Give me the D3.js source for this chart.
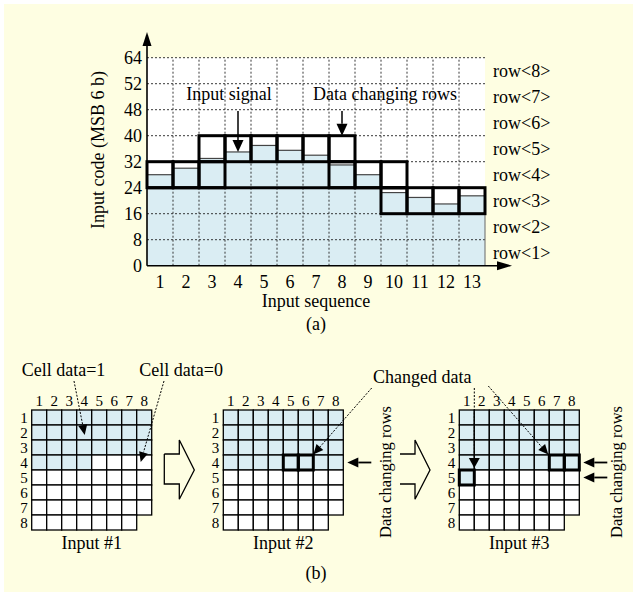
<!DOCTYPE html>
<html>
<head>
<meta charset="utf-8">
<script src="https://cdn.jsdelivr.net/npm/d3@7"></script>
<style>
  body { margin: 0; background: #fff; }
  svg text { font-family: "Liberation Serif", "Times New Roman", serif; fill: #000; }
</style>
</head>
<body>
<svg id="fig" width="633" height="592"></svg>
<script>
// (a) input sequence vs code
const sequence = [1, 2, 3, 4, 5, 6, 7, 8, 9, 10, 11, 12, 13]
const signal = [28, 30, 33, 35, 37, 35.5, 34, 31, 28, 22.5, 21, 19, 21.5]
const yTickValues = [0, 8, 16, 24, 32, 40, 48, 56, 64]
const yTickLabels = ['0', '8', '16', '24', '32', '40', '48', '52', '64']
const rowNames = ['row<1>', 'row<2>', 'row<3>', 'row<4>', 'row<5>', 'row<6>', 'row<7>', 'row<8>']
const changingRows = [[4], [4], [4, 5], [5], [5], [5], [5], [4, 5], [4], [3, 4], [3], [3], [3]]

// (b) 8x8 cell arrays
const gridIndex = [1, 2, 3, 4, 5, 6, 7, 8]
const gridInputs = ['Input #1', 'Input #2', 'Input #3']
const gridFilled = [28, 32, 33]
const gridChanged = [[], [[4, 5], [4, 6]], [[5, 1], [4, 7], [4, 8]]]
const gridArrowRows = [[], [4], [4, 5]]

const BG = '#fefee2'
const BLUE = '#daedf3'

const svg = d3.select('#fig')
svg.append('rect')
  .attr('x', 4).attr('y', 4)
  .attr('width', 629).attr('height', 588)
  .attr('fill', BG)

// straight or dotted line ending in a filled head
const arrow = (g, x1, y1, x2, y2, o = {}) => {
  const len = o.len || 12
  const wid = o.wid || 10
  const a = Math.atan2(y2 - y1, x2 - x1)
  const bx = x2 - len * Math.cos(a)
  const by = y2 - len * Math.sin(a)
  const dx = wid / 2 * Math.sin(a)
  const dy = wid / 2 * Math.cos(a)
  g.append('line')
    .attr('x1', x1).attr('y1', y1)
    .attr('x2', bx).attr('y2', by)
    .attr('stroke', '#000')
    .attr('stroke-width', o.width || 1.5)
    .attr('stroke-dasharray', o.dash || null)
  g.append('path')
    .attr('d', `M${x2},${y2}L${bx + dx},${by - dy}L${bx - dx},${by + dy}Z`)
    .attr('fill', '#000')
}

/* ---------- (a) ---------- */
const panelA = svg.append('g')
const x = d3.scaleBand().domain(sequence).range([147, 485])
const y = d3.scaleLinear().domain([0, 64]).range([265.7, 57.7])
const bw = x.bandwidth()

panelA.append('rect')
  .attr('x', x.range()[0]).attr('y', y(64))
  .attr('width', x.range()[1] - x.range()[0])
  .attr('height', y(0) - y(64))
  .attr('fill', '#fff')

panelA.selectAll('rect.bar')
  .data(signal)
  .join('rect')
  .attr('class', 'bar')
  .attr('x', (d, i) => x(sequence[i]))
  .attr('y', d => y(d))
  .attr('width', bw)
  .attr('height', d => y(0) - y(d))
  .attr('fill', BLUE)

// dotted grid
panelA.selectAll('line.hgrid')
  .data(yTickValues.slice(1))
  .join('line')
  .attr('class', 'hgrid')
  .attr('x1', x.range()[0]).attr('x2', x.range()[1])
  .attr('y1', d => y(d)).attr('y2', d => y(d))
  .attr('stroke', '#222').attr('stroke-width', 0.9)
  .attr('stroke-dasharray', '2,2')

panelA.selectAll('line.vgrid')
  .data(sequence.slice(1))
  .join('line')
  .attr('class', 'vgrid')
  .attr('x1', d => x(d)).attr('x2', d => x(d))
  .attr('y1', y(0)).attr('y2', y(64))
  .attr('stroke', '#222').attr('stroke-width', 0.9)
  .attr('stroke-dasharray', '2,2')

// top of the signal in each column
panelA.selectAll('line.sig')
  .data(signal)
  .join('line')
  .attr('class', 'sig')
  .attr('x1', (d, i) => x(sequence[i]))
  .attr('x2', (d, i) => x(sequence[i]) + bw)
  .attr('y1', d => y(d)).attr('y2', d => y(d))
  .attr('stroke', '#444').attr('stroke-width', 1.2)

panelA.append('line')
  .attr('x1', x.range()[1]).attr('x2', x.range()[1])
  .attr('y1', y(0)).attr('y2', y(signal[signal.length - 1]))
  .attr('stroke', '#666').attr('stroke-width', 1)

// data changing rows as thick boxes
const boxes = []
changingRows.forEach((rows, i) => rows.forEach(r => boxes.push({ col: sequence[i], row: r })))
const row4 = sequence.filter((s, i) => changingRows[i].includes(4))
panelA.append('line')
  .attr('x1', x(d3.min(row4))).attr('x2', x(d3.max(row4)) + bw)
  .attr('y1', y(24)).attr('y2', y(24))
  .attr('stroke', '#000').attr('stroke-width', 3)

panelA.selectAll('rect.box')
  .data(boxes)
  .join('rect')
  .attr('class', 'box')
  .attr('x', d => x(d.col))
  .attr('y', d => y(d.row * 8))
  .attr('width', bw)
  .attr('height', d => y((d.row - 1) * 8) - y(d.row * 8))
  .attr('fill', 'none')
  .attr('stroke', '#000').attr('stroke-width', 3)

// axes
const yAxis = panelA.append('g')
  .attr('transform', `translate(${x.range()[0]},0)`)
  .call(d3.axisLeft(y).tickValues(yTickValues).tickFormat((d, i) => yTickLabels[i]).tickSize(0).tickPadding(5))
  .attr('font-size', 18)
yAxis.select('.domain').remove()

const xAxis = panelA.append('g')
  .attr('transform', `translate(0,${y(0)})`)
  .call(d3.axisBottom(x).tickSize(0).tickPadding(9.5))
  .attr('font-size', 18)
xAxis.select('.domain').remove()

arrow(panelA, x.range()[0], y(0), x.range()[0], 32, { len: 14, wid: 9, width: 1.6 })
arrow(panelA, x.range()[0], y(0), 512, y(0), { len: 15, wid: 9, width: 1.6 })

panelA.selectAll('text.rowname')
  .data(rowNames)
  .join('text')
  .attr('class', 'rowname')
  .attr('x', x.range()[1] + 8)
  .attr('y', (d, i) => y(i * 8 + 4))
  .attr('dy', '0.35em')
  .attr('font-size', 18)
  .text(d => d)

panelA.append('text')
  .attr('transform', 'translate(98,150) rotate(-90)')
  .attr('text-anchor', 'middle')
  .attr('dominant-baseline', 'central')
  .attr('font-size', 18)
  .text('Input code (MSB 6 b)')

panelA.append('text')
  .attr('x', 316).attr('y', 307)
  .attr('text-anchor', 'middle')
  .attr('font-size', 18)
  .text('Input sequence')

panelA.append('text')
  .attr('x', 316).attr('y', 330)
  .attr('text-anchor', 'middle')
  .attr('font-size', 18)
  .text('(a)')

panelA.append('text')
  .attr('x', 229).attr('y', 100)
  .attr('text-anchor', 'middle')
  .attr('font-size', 18)
  .text('Input signal')
arrow(panelA, x(4) + bw / 2, 111, x(4) + bw / 2, y(signal[3]), { len: 12, wid: 11 })

panelA.append('text')
  .attr('x', 385).attr('y', 100)
  .attr('text-anchor', 'middle')
  .attr('font-size', 18)
  .text('Data changing rows')
arrow(panelA, x(8) + bw / 2, 111, x(8) + bw / 2, y(40), { len: 12, wid: 11 })

/* ---------- (b) ---------- */
const panelB = svg.append('g')
const gridLeft = [31.7, 223.3, 459.3]
const gridTop = 410
const cell = d3.scaleBand().domain(gridIndex).range([0, 120])
const cw = cell.bandwidth()

gridInputs.forEach((name, g) => {
  const gx = gridLeft[g]
  const grid = panelB.append('g').attr('transform', `translate(${gx},${gridTop})`)

  const cells = []
  gridIndex.forEach(r => gridIndex.forEach(c => {
    if (r === 8 && c === 8) return
    cells.push({ r, c, on: (r - 1) * 8 + (c - 1) < gridFilled[g] })
  }))

  grid.selectAll('rect.cell')
    .data(cells)
    .join('rect')
    .attr('class', 'cell')
    .attr('x', d => cell(d.c)).attr('y', d => cell(d.r))
    .attr('width', cw).attr('height', cw)
    .attr('fill', d => d.on ? BLUE : '#fff')
    .attr('stroke', '#000').attr('stroke-width', 1.3)

  grid.selectAll('rect.changed')
    .data(gridChanged[g])
    .join('rect')
    .attr('class', 'changed')
    .attr('x', d => cell(d[1])).attr('y', d => cell(d[0]))
    .attr('width', cw).attr('height', cw)
    .attr('fill', 'none')
    .attr('stroke', '#000').attr('stroke-width', 3)

  grid.selectAll('text.col')
    .data(gridIndex)
    .join('text')
    .attr('class', 'col')
    .attr('x', d => cell(d) + cw / 2)
    .attr('y', -4)
    .attr('text-anchor', 'middle')
    .attr('font-size', 15)
    .text(d => d)

  grid.selectAll('text.row')
    .data(gridIndex)
    .join('text')
    .attr('class', 'row')
    .attr('x', -4)
    .attr('y', d => cell(d) + cw / 2)
    .attr('dy', '0.35em')
    .attr('text-anchor', 'end')
    .attr('font-size', 15)
    .text(d => d)

  grid.append('text')
    .attr('x', 60).attr('y', 139)
    .attr('text-anchor', 'middle')
    .attr('font-size', 18)
    .text(name)

  gridArrowRows[g].forEach(r => {
    arrow(grid, 148, cell(r) + cw / 2, 124, cell(r) + cw / 2, { len: 11, wid: 10, width: 1.8 })
  })
  if (gridArrowRows[g].length) {
    grid.append('text')
      .attr('transform', `translate(${g === 1 ? 162 : 157},62) rotate(-90)`)
      .attr('text-anchor', 'middle')
      .attr('dominant-baseline', 'central')
      .attr('font-size', 16.5)
      .text('Data changing rows')
  }
})

// hollow block arrows between the inputs
const blockArrows = [{ x: 164.3, closed: true }, { x: 400, closed: false }]
blockArrows.forEach(b => {
  const pts = [[b.x, 454], [b.x + 15, 454], [b.x + 15, 440], [b.x + 30, 470],
    [b.x + 15, 499.3], [b.x + 15, 484], [b.x, 484]]
  if (b.closed) pts.push([b.x, 454])
  panelB.append('path')
    .attr('d', d3.line()(pts))
    .attr('fill', 'none')
    .attr('stroke', '#000').attr('stroke-width', 1.3)
})

panelB.append('text')
  .attr('x', 21.7).attr('y', 376)
  .attr('font-size', 18)
  .text('Cell data=1')
panelB.append('text')
  .attr('x', 139.3).attr('y', 376)
  .attr('font-size', 18)
  .text('Cell data=0')
panelB.append('text')
  .attr('x', 373).attr('y', 383)
  .attr('font-size', 18)
  .text('Changed data')

const dot = { len: 10, wid: 9, width: 1, dash: '2,1.5' }
arrow(panelB, 74, 381, gridLeft[0] + cell(4) + 8, gridTop + cell(2) + 10, dot)
arrow(panelB, 164, 381, gridLeft[0] + cell(8) + 4, gridTop + cell(4) - 8 + cw, dot)
arrow(panelB, 371.7, 388, gridLeft[1] + cell(6) + cw, gridTop + cell(4) - 8 + 0.5 * cw, dot)
arrow(panelB, 488.3, 386, gridLeft[2] + cell(7) - 1, gridTop + cell(4) - 8 + 0.5 * cw, dot)
arrow(panelB, gridLeft[2] + cell(2), 388, gridLeft[2] + cell(2), gridTop + cell(5) - 2, { len: 10, wid: 11, width: 1, dash: '2,1.5' })

panelB.append('text')
  .attr('x', 316).attr('y', 579)
  .attr('text-anchor', 'middle')
  .attr('font-size', 18)
  .text('(b)')
</script>
</body>
</html>
